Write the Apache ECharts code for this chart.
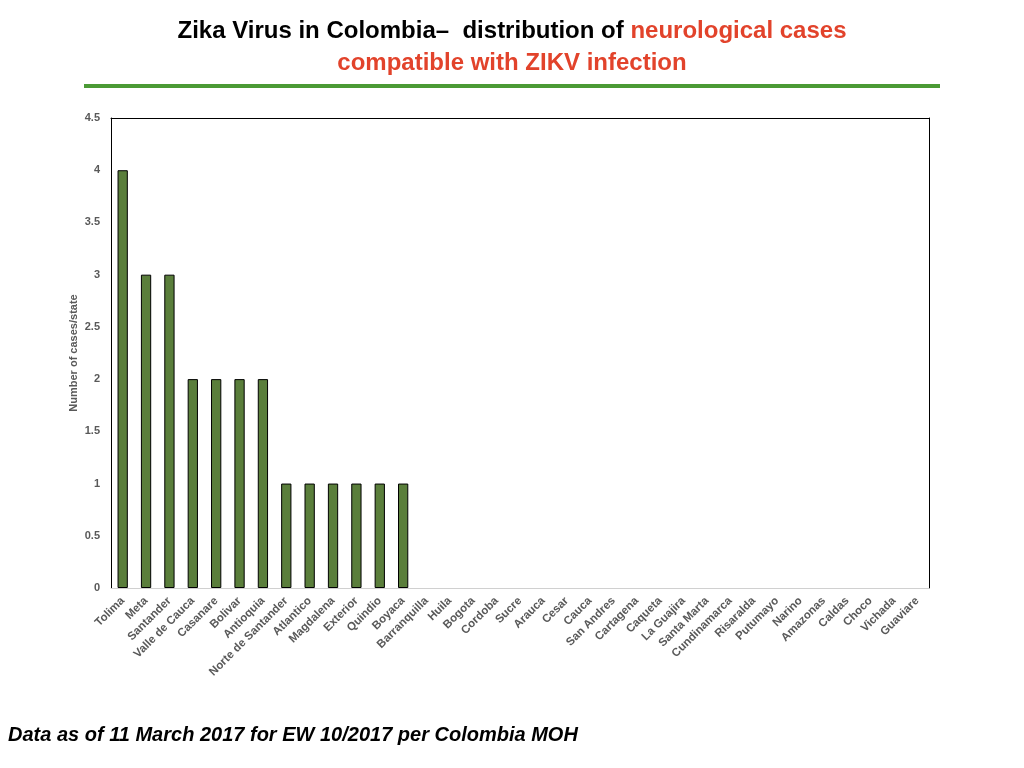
<!DOCTYPE html>
<html>
    <head>
        <meta charset="utf-8">
        <title>Zika Virus in Colombia</title>
        <script src="https://cdn.jsdelivr.net/npm/echarts@6/dist/echarts.min.js"></script>
        <style>
            html, body { margin: 0; padding: 0; background: #fff; }
            #chart1 { width: 1024px; height: 768px; }
        </style>
    </head>
    <body>
        <div id="chart1"></div>
        <script type="text/javascript">
            // 州名 / 病例数
            var states = ['Tolima', 'Meta', 'Santander', 'Valle de Cauca', 'Casanare', 'Bolivar', 'Antioquia',
                'Norte de Santander', 'Atlantico', 'Magdalena', 'Exterior', 'Quindio', 'Boyaca', 'Barranquilla',
                'Huila', 'Bogota', 'Cordoba', 'Sucre', 'Arauca', 'Cesar', 'Cauca', 'San Andres', 'Cartagena',
                'Caqueta', 'La Guajira', 'Santa Marta', 'Cundinamarca', 'Risaralda', 'Putumayo', 'Narino',
                'Amazonas', 'Caldas', 'Choco', 'Vichada', 'Guaviare'];
            var cases = [4, 3, 3, 2, 2, 2, 2, 1, 1, 1, 1, 1, 1, 0, 0, 0, 0, 0, 0, 0, 0, 0, 0, 0, 0, 0, 0, 0, 0, 0, 0, 0, 0, 0, 0];
            var yTicks = [0, 0.5, 1, 1.5, 2, 2.5, 3, 3.5, 4, 4.5];

            var font = 'Liberation Sans, Arial, sans-serif';
            var myChart1 = echarts.init(document.getElementById('chart1'));

            // 0 值不画边框
            var barData = cases.map(function (v) {
                return v === 0 ? { value: v, itemStyle: { borderWidth: 0 } } : v;
            });

            myChart1.setOption({
                backgroundColor: '#fff',
                animation: false,
                title: [
                    {
                        left: 'center',
                        top: 14,
                        text: '{a|Zika Virus in Colombia–  distribution of }{b|neurological cases}',
                        textStyle: {
                            rich: {
                                a: { fontFamily: font, fontWeight: 'bold', fontSize: 24, color: '#000' },
                                b: { fontFamily: font, fontWeight: 'bold', fontSize: 24, color: '#e2432b' }
                            }
                        }
                    },
                    {
                        left: 'center',
                        top: 46,
                        text: 'compatible with ZIKV infection',
                        textStyle: { fontFamily: font, fontWeight: 'bold', fontSize: 24, color: '#e2432b' }
                    },
                    {
                        left: 3,
                        top: 720,
                        text: 'Data as of 11 March 2017 for EW 10/2017 per Colombia MOH',
                        textStyle: { fontFamily: font, fontWeight: 'bold', fontStyle: 'italic', fontSize: 20, color: '#000' }
                    }
                ],
                graphic: [
                    {
                        // 标题下的绿色横线
                        type: 'rect',
                        shape: { x: 84, y: 84, width: 856, height: 4 },
                        style: { fill: '#4b9a35' }
                    }
                ],
                grid: {
                    left: 111,
                    right: 95,
                    top: 118,
                    bottom: 180
                },
                xAxis: [
                    {
                        type: 'category',
                        data: states,
                        axisLine: { show: true, lineStyle: { color: '#d0d0d0', width: 1 } },
                        axisTick: { show: false },
                        axisLabel: {
                            interval: 0,
                            rotate: 45,
                            margin: 11,
                            fontFamily: font,
                            fontWeight: 'bold',
                            fontSize: 11.5,
                            color: '#595959'
                        }
                    },
                    {
                        type: 'category',
                        position: 'top',
                        data: states,
                        axisLine: { show: true, onZero: false, lineStyle: { color: '#000', width: 1 } },
                        axisTick: { show: false },
                        axisLabel: { show: false }
                    }
                ],
                yAxis: [
                    {
                        type: 'value',
                        min: 0,
                        max: 4.5,
                        interval: 0.5,
                        name: 'Number of cases/state',
                        nameLocation: 'middle',
                        nameGap: 32,
                        nameMoveOverlap: false,
                        nameTextStyle: { fontFamily: font, fontWeight: 'bold', fontSize: 11, color: '#595959' },
                        axisLine: { show: true, lineStyle: { color: '#000', width: 1 } },
                        axisTick: { show: false },
                        splitLine: { show: false },
                        axisLabel: {
                            margin: 11,
                            fontFamily: font,
                            fontWeight: 'bold',
                            fontSize: 11,
                            color: '#595959',
                            formatter: function (v) {
                                return yTicks.indexOf(v) >= 0 ? String(v) : '';
                            }
                        }
                    },
                    {
                        type: 'value',
                        position: 'right',
                        min: 0,
                        max: 4.5,
                        interval: 0.5,
                        axisLine: { show: true, onZero: false, lineStyle: { color: '#000', width: 1 } },
                        axisTick: { show: false },
                        splitLine: { show: false },
                        axisLabel: { show: false }
                    }
                ],
                series: [
                    {
                        name: 'cases',
                        type: 'bar',
                        data: barData,
                        barWidth: '44%',
                        itemStyle: {
                            color: '#5a7e3b',
                            borderColor: '#000',
                            borderWidth: 1
                        }
                    }
                ]
            });
        </script>
    </body>
</html>
